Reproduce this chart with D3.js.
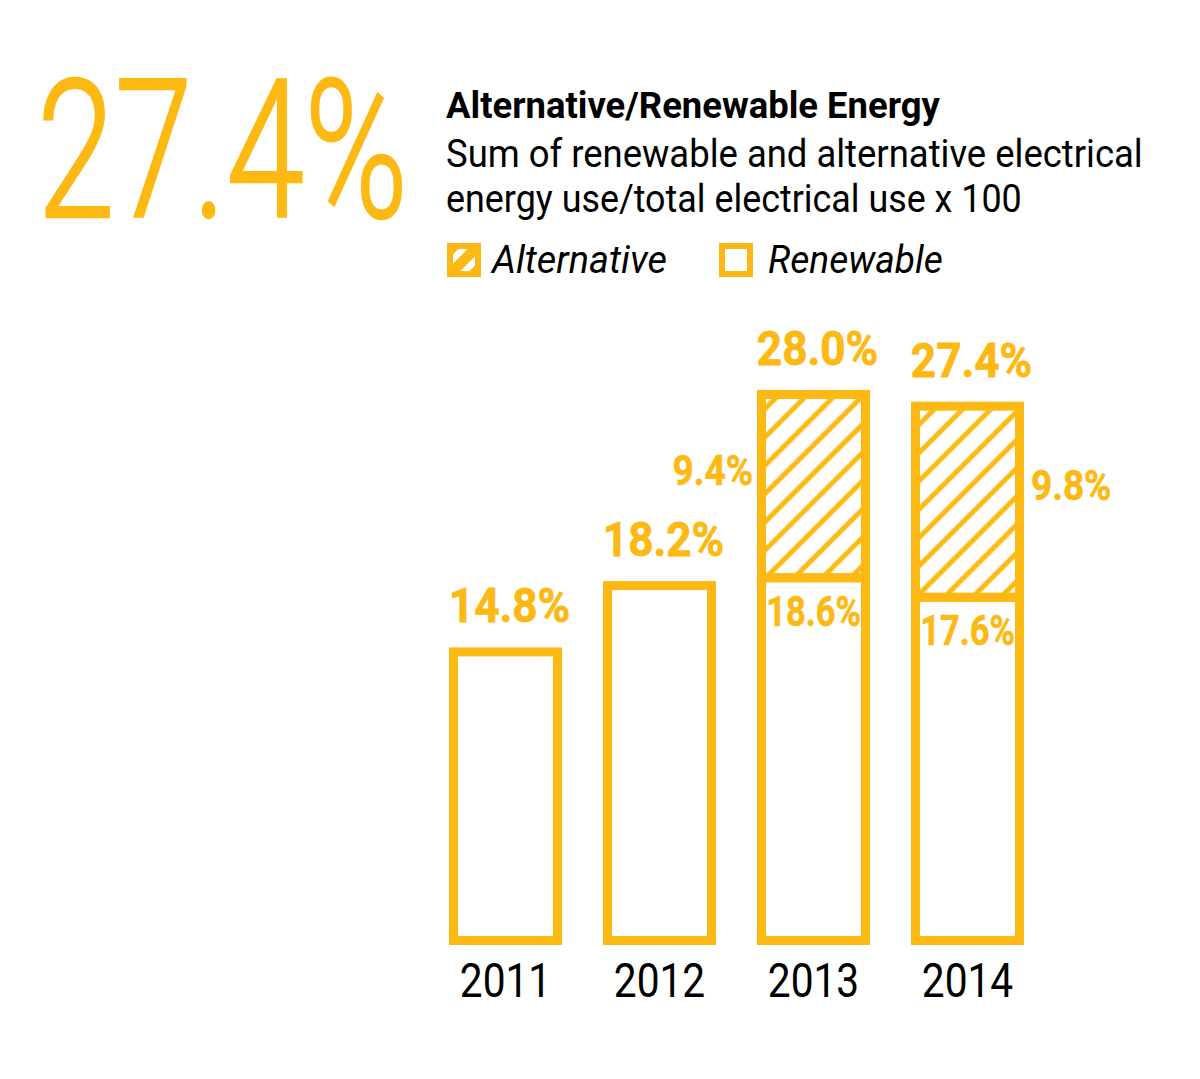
<!DOCTYPE html>
<html><head><meta charset="utf-8">
<script src="https://cdn.jsdelivr.net/npm/d3@7"></script>
<style>body{margin:0;background:#fff}svg{display:block}</style>
</head><body>
<svg id="c" width="1200" height="1079"></svg>
<script>
// ---- data ----
const years = ["2011", "2012", "2013", "2014"];
const renewable = [14.8, 18.2, 18.6, 17.6];
const alternative = [0, 0, 9.4, 9.8];
const headline = "27.4%";
const title = "Alternative/Renewable Energy";
const subtitle = ["Sum of renewable and alternative electrical", "energy use/total electrical use x 100"];
const legendLabels = ["Alternative", "Renewable"];

// ---- setup ----
const ORANGE = "#FDB913";
const FONT = "Roboto, 'Liberation Sans', sans-serif";
const svg = d3.select("#c");
const fmt = d3.format(".1f");
const pct = v => fmt(v) + "%";

const x = d3.scaleBand().domain(years).range([453.5, 1019.5]).paddingInner(50 / 154).paddingOuter(0);
const y = d3.scaleLinear().domain([0, 28]).range([940.5, 394.5]);
const bw = x.bandwidth();

// condensed text: draws text in a group scaled horizontally (either to a target width or by a factor)
function ctext(parent, px, py, str, o) {
  const gg = parent.append("g").attr("transform", `translate(${px},${py})`);
  const t = gg.append("text").text(str)
    .attr("font-family", FONT)
    .attr("font-size", o.size)
    .attr("font-weight", o.weight || 400)
    .attr("font-style", o.style || "normal")
    .attr("text-anchor", o.anchor || "start")
    .attr("fill", o.fill || "#000");
  if (o.bold) t.attr("stroke", o.fill || "#000").attr("stroke-width", o.bold);
  const w = t.node().getComputedTextLength();
  const k = o.width ? o.width / w : (o.k || 1);
  gg.attr("transform", `translate(${px},${py}) scale(${k},1)`);
  return gg;
}

const defs = svg.append("defs");
const pat = defs.append("pattern").attr("id", "hatch")
  .attr("patternUnits", "userSpaceOnUse").attr("width", 20).attr("height", 20)
  .attr("patternTransform", "rotate(45)");
pat.append("line").attr("x1", 10).attr("y1", -2).attr("x2", 10).attr("y2", 22)
  .attr("stroke", ORANGE).attr("stroke-width", 5);

// ---- header ----
ctext(svg, 37, 217, headline, { size: 193, weight: 300, fill: ORANGE, width: 371, bold: 2.5 });
ctext(svg, 446, 118, title, { size: 36, weight: 700, width: 494 });
const subW = [697, 576];
subtitle.forEach((s, i) => ctext(svg, 446, 167 + i * 45, s, { size: 38, width: subW[i] }));

// ---- legend ----
const clip = defs.append("clipPath").attr("id", "lgclip");
clip.append("rect").attr("width", 34).attr("height", 34);
const lg1 = svg.append("g").attr("transform", "translate(447,243)");
const lgh = lg1.append("g").attr("clip-path", "url(#lgclip)");
lgh.append("rect").attr("width", 34).attr("height", 34).attr("fill", ORANGE);
[22, 46].forEach(c => {
  lgh.append("line").attr("x1", c - 40).attr("y1", 40).attr("x2", c + 40).attr("y2", -40)
    .attr("stroke", "#fff").attr("stroke-width", 6.5);
});
lg1.append("rect").attr("x", 3).attr("y", 3).attr("width", 28).attr("height", 28)
  .attr("fill", "none").attr("stroke", ORANGE).attr("stroke-width", 6);
svg.append("rect").attr("x", 722).attr("y", 246).attr("width", 28).attr("height", 28)
  .attr("fill", "none").attr("stroke", ORANGE).attr("stroke-width", 6);

const legX = [492, 768];
legendLabels.forEach((s, i) => ctext(svg, legX[i], 273, s, { size: 38, style: "italic", width: 175 }));

// ---- bars ----
const data = years.map((yr, i) => ({ yr, i, r: renewable[i], a: alternative[i], t: renewable[i] + alternative[i] }));
const stacked = data.filter(d => d.a > 0);
const g = svg.append("g");

g.selectAll("rect.alt").data(stacked).join("rect").attr("class", "alt")
  .attr("x", d => x(d.yr)).attr("y", d => y(d.t))
  .attr("width", bw).attr("height", d => y(d.r) - y(d.t))
  .attr("fill", "url(#hatch)").attr("stroke", ORANGE).attr("stroke-width", 9);

g.selectAll("rect.ren").data(data).join("rect").attr("class", "ren")
  .attr("x", d => x(d.yr)).attr("y", d => y(d.r))
  .attr("width", bw).attr("height", d => y(0) - y(d.r))
  .attr("fill", "none").attr("stroke", ORANGE).attr("stroke-width", 9);

const lbl = svg.append("g");
// total labels
data.forEach(d => ctext(lbl, x(d.yr) + bw / 2 + 4, y(d.t) - 29.5, pct(d.t),
  { size: 49, weight: 700, fill: ORANGE, anchor: "middle", k: 0.9, bold: 0.8 }));

// alternative labels (left of bar, last one on the right)
const lastIdx = data.length - 1;
stacked.forEach(d => {
  const right = d.i === lastIdx;
  ctext(lbl, right ? x(d.yr) + bw + 11.5 : x(d.yr) - 8.5, (y(d.t) + y(d.r)) / 2 - 1.5, pct(d.a),
    { size: 42, weight: 700, fill: ORANGE, anchor: right ? "start" : "end", k: 0.88, bold: 0.6 });
});

// renewable labels inside stacked bars
stacked.forEach(d => ctext(lbl, x(d.yr) + bw / 2, y(d.r) + 48, pct(d.r),
  { size: 42, weight: 700, fill: ORANGE, anchor: "middle", k: 0.82, bold: 0.6 }));

// year labels
data.forEach(d => ctext(lbl, x(d.yr) + bw / 2, 997, d.yr,
  { size: 49, anchor: "middle", k: 0.83 }));
</script>
</body></html>
